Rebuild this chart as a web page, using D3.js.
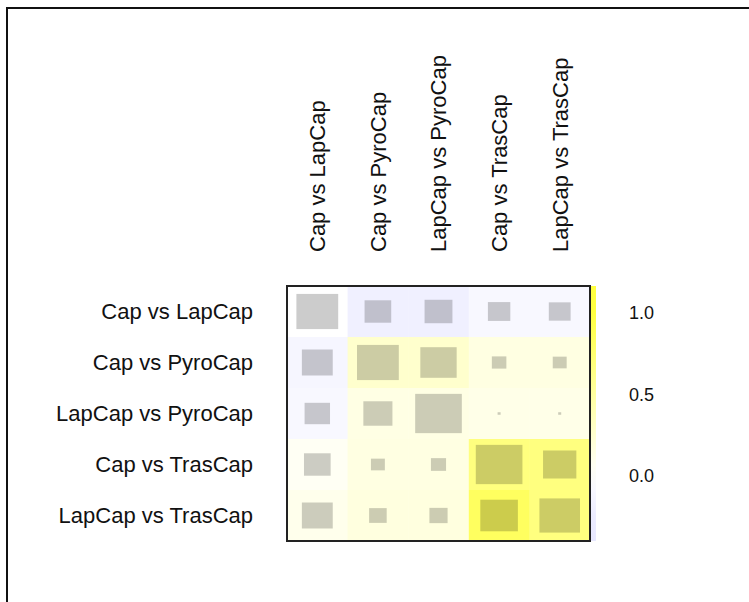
<!DOCTYPE html>
<html>
<head>
<meta charset="utf-8">
<script src="https://cdn.jsdelivr.net/npm/d3@7"></script>
<style>
  body { margin: 0; background: #fff; }
  text { font-family: "Liberation Sans", Arial, sans-serif; fill: #111; }
</style>
</head>
<body>
<script>
// labels for rows and columns
var labels = ["Cap vs LapCap", "Cap vs PyroCap", "LapCap vs PyroCap", "Cap vs TrasCap", "LapCap vs TrasCap"];

// background colour value of each cell (row by row)
var colourVals = [
  [0.00, -0.20, -0.20, -0.09, -0.09],
  [-0.12, 0.26, 0.26, 0.15, 0.15],
  [-0.09, 0.14, 0.14, 0.12, 0.12],
  [0.06, 0.15, 0.15, 0.67, 0.67],
  [0.10, 0.17, 0.17, 0.84, 0.67]
];

// size of each square, as share of the cell
var sizeVals = [
  [0.69, 0.44, 0.46, 0.37, 0.36],
  [0.51, 0.69, 0.60, 0.24, 0.23],
  [0.42, 0.48, 0.77, 0.05, 0.05],
  [0.44, 0.23, 0.25, 0.77, 0.55],
  [0.51, 0.29, 0.30, 0.62, 0.67]
];

var legendTicks = [1.0, 0.5, 0.0];

var W = 749, H = 602;
var svg = d3.select("body").append("svg")
  .attr("width", W)
  .attr("height", H);

// outer frame (cut off at right and bottom)
svg.append("path")
  .attr("d", "M7," + H + "V8H" + W)
  .attr("fill", "none")
  .attr("stroke", "#111")
  .attr("stroke-width", 2);

var x = d3.scaleBand().domain(d3.range(5)).range([287, 590]);
var y = d3.scaleBand().domain(d3.range(5)).range([286, 541]);

var colour = d3.scaleLinear()
  .domain([-0.3, 0, 1])
  .range(["#e8e8ff", "#ffffff", "#ffff40"])
  .clamp(true);

var cells = [];
colourVals.forEach(function(row, i) {
  row.forEach(function(v, j) {
    cells.push({ i: i, j: j, c: v, s: sizeVals[i][j] });
  });
});

svg.append("g").selectAll("rect")
  .data(cells)
  .join("rect")
  .attr("x", d => x(d.j))
  .attr("y", d => y(d.i))
  .attr("width", x.bandwidth() + 0.5)
  .attr("height", y.bandwidth() + 0.5)
  .attr("fill", d => colour(d.c));

svg.append("g").selectAll("rect")
  .data(cells)
  .join("rect")
  .attr("x", d => x(d.j) + x.bandwidth() * (1 - d.s) / 2)
  .attr("y", d => y(d.i) + y.bandwidth() * (1 - d.s) / 2)
  .attr("width", d => x.bandwidth() * d.s)
  .attr("height", d => y.bandwidth() * d.s)
  .attr("fill", "#000")
  .attr("fill-opacity", 0.2);

// colour strip, mostly hidden
var ly = d3.scaleLinear().domain([0, 1]).range([476, 313]);
var defs = svg.append("defs");
var grad = defs.append("linearGradient")
  .attr("id", "strip")
  .attr("x1", 0).attr("y1", 0).attr("x2", 0).attr("y2", 1);
d3.range(0, 1.01, 0.1).forEach(function(t) {
  var yy = 286 + t * (541 - 286);
  grad.append("stop")
    .attr("offset", t)
    .attr("stop-color", colour(ly.invert(yy)));
});
svg.append("rect")
  .attr("x", 591)
  .attr("y", 286)
  .attr("width", 5)
  .attr("height", 255)
  .attr("fill", "url(#strip)");

svg.append("rect")
  .attr("x", 287)
  .attr("y", 286)
  .attr("width", 303)
  .attr("height", 255)
  .attr("fill", "none")
  .attr("stroke", "#222")
  .attr("stroke-width", 2);

// row labels
svg.append("g").selectAll("text")
  .data(labels)
  .join("text")
  .attr("x", 253)
  .attr("y", (d, i) => y(i) + y.bandwidth() / 2)
  .attr("dy", "0.36em")
  .attr("text-anchor", "end")
  .attr("font-size", 22)
  .text(d => d);

// column labels
svg.append("g").selectAll("text")
  .data(labels)
  .join("text")
  .attr("transform", (d, i) => "translate(" + (x(i) + x.bandwidth() / 2) + ",252) rotate(-90)")
  .attr("dy", "0.36em")
  .attr("text-anchor", "start")
  .attr("font-size", 22)
  .text(d => d);

// legend labels
svg.append("g").selectAll("text")
  .data(legendTicks)
  .join("text")
  .attr("x", 629)
  .attr("y", d => ly(d))
  .attr("dy", "0.36em")
  .attr("font-size", 18)
  .text(d => d.toFixed(1));
</script>
</body>
</html>
